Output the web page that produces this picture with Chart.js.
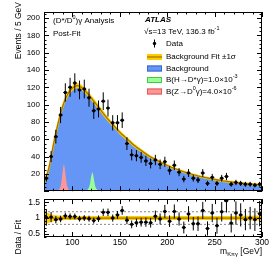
<!DOCTYPE html>
<html>
<head>
<meta charset="utf-8">
<script src="https://cdn.jsdelivr.net/npm/chart.js@4.4.0/dist/chart.umd.min.js"></script>
<style>
body { margin: 0; background: #fff; }
#wrap { position: relative; width: 277px; height: 266px; }
canvas { position: absolute; left: 0; }
#main { top: 0; }
#ratio { top: 190px; }
</style>
</head>
<body>
<div id="wrap">
<canvas id="main" width="277" height="200"></canvas>
<canvas id="ratio" width="277" height="76"></canvas>
</div>
<script>
// bins of 5 GeV
const binCenters = [72.5,77.5,82.5,87.5,92.5,97.5,102.5,107.5,112.5,117.5,122.5,127.5,132.5,137.5,142.5,147.5,152.5,157.5,162.5,167.5,172.5,177.5,182.5,187.5,192.5,197.5,202.5,207.5,212.5,217.5,222.5,227.5,232.5,237.5,242.5,247.5,252.5,257.5,262.5,267.5,272.5,277.5,282.5,287.5,292.5,297.5];
const dataEvents = [15,40,63,88,114,120,125,117,118,108,93,95,104,96,79,79,82,55,42,41,39,35,32,36,31,34,24,30,22,14,21,15,13,21,9,16,9,15,17,8,10,9,8,8,7,8];
const ratioValues = [1.02,1.03,0.95,0.97,1.07,1.05,1.05,0.98,1.0,0.98,0.92,0.98,1.18,1.18,1.0,1.1,1.24,0.93,0.8,0.85,0.87,0.87,0.85,1.06,0.97,1.21,0.9,1.21,0.97,0.7,1.13,0.82,0.82,1.24,0.67,1.16,0.76,1.2,1.55,0.84,1.16,1.1,0.95,1.0,0.95,1.14];

// background fit curve
const fitMass = [70,75,80,85,90,95,100,105,110,115,120,125,130,135,140,145,150,155,160,165,170,175,180,185,190,195,200,205,210,215,220,225,230,235,240,245,250,255,260,265,270,275,280,285,290,295,300];
const fitValues = [9,26,54,79,99,112,119,122,119.5,114,107.5,100.5,93.5,86.5,80,74,68,63,58,53,49,45,41.2,38,35,32.2,29.7,27.4,25.3,23.3,21.5,19.9,18.4,17,15.8,14.7,13.6,12.7,11.8,11,10.3,9.7,9.1,8.6,8.1,7.7,7.3];
const fitErr = [3,5,6,5,4,3.5,3,3,3,3,3,3,2.8,2.7,2.6,2.5,2.4,2.3,2.2,2.1,2,1.9,1.8,1.8,1.7,1.6,1.6,1.5,1.5,1.5,1.5,1.5,1.5,1.5,1.5,1.5,1.5,1.5,1.5,1.5,1.5,1.5,1.5,1.5,1.5,1.5,1.5];
const ratioBand = [0.22,0.15,0.1,0.08,0.07,0.065,0.065,0.065,0.065,0.065,0.065,0.065,0.065,0.065,0.065,0.065,0.065,0.065,0.065,0.065,0.065,0.065,0.065,0.065,0.065,0.065,0.065,0.065,0.065,0.065,0.065,0.065,0.065,0.065,0.065,0.065,0.065,0.065,0.065,0.065,0.065,0.07,0.07,0.075,0.075,0.08,0.08];

// signal shapes
const zMass = [83,85,86.5,88,89,90,91,92,93,94,95.5,97,99];
const zSignal = [0,1,3,8,16,25,31,25,16,8,3,1,0];
const hMass = [113,115,116.5,118,119,120,121,122,123,124,125.5,127,129];
const hSignal = [0,0.8,2.5,6,11.5,18,22,18,11.5,6,2.5,0.8,0];

const xTicks = [100,150,200,250,300];
const mainYTicks = [20,40,60,80,100,120,140,160,180,200];
const ratioYTicks = [0.5,1,1.5];
const refLines = [0.8,1.2];

const FAM = '"Liberation Sans", Arial, Helvetica, sans-serif';
const BLUE = 'rgb(102,150,245)';
const YELLOW = 'rgb(255,204,0)';
const FITLINE = 'rgb(160,115,0)';
const GREEN = 'rgb(150,255,150)';
const PINK = 'rgb(255,150,150)';
const TXT = 8;

Chart.defaults.font.family = FAM;
Chart.defaults.color = '#000';

function pts(xs, ys) {
    return xs.map((x, i) => ({ x: x, y: ys[i] }));
}

function richText(ctx, x, y, parts, size, align) {
    let w = 0;
    parts.forEach(p => {
        ctx.font = (p[1] ? size * 0.68 : size) + 'px ' + FAM;
        w += ctx.measureText(p[0]).width;
    });
    let cx = align === 'right' ? x - w : x;
    ctx.textAlign = 'left';
    ctx.textBaseline = 'middle';
    parts.forEach(p => {
        ctx.font = (p[1] ? size * 0.68 : size) + 'px ' + FAM;
        let dy = 0;
        if (p[1] === 'sup') dy = -size * 0.38;
        if (p[1] === 'sub') dy = size * 0.3;
        ctx.fillText(p[0], cx, y + dy);
        cx += ctx.measureText(p[0]).width;
    });
}

function frameTicks(xMaj, xMin, yMaj, yMin, lenMaj, lenMin) {
    return {
        id: 'frameTicks',
        afterDraw(chart) {
            const ctx = chart.ctx;
            const a = chart.chartArea;
            const x = chart.scales.x;
            const y = chart.scales.y;
            ctx.save();
            ctx.strokeStyle = '#000';
            ctx.lineWidth = 1;
            ctx.beginPath();
            for (let k = Math.ceil(x.min / xMin - 1e-9); k * xMin <= x.max + 1e-9; k++) {
                const v = k * xMin;
                const major = Math.abs(v / xMaj - Math.round(v / xMaj)) < 1e-6;
                const len = major ? lenMaj : lenMin;
                const px = Math.round(x.getPixelForValue(v)) + 0.5;
                ctx.moveTo(px, a.bottom); ctx.lineTo(px, a.bottom - len);
                ctx.moveTo(px, a.top); ctx.lineTo(px, a.top + len);
            }
            for (let k = Math.ceil(y.min / yMin - 1e-9); k * yMin <= y.max + 1e-9; k++) {
                const v = k * yMin;
                const major = Math.abs(v / yMaj - Math.round(v / yMaj)) < 1e-6;
                const len = major ? lenMaj : lenMin;
                const py = Math.round(y.getPixelForValue(v)) + 0.5;
                ctx.moveTo(a.left, py); ctx.lineTo(a.left + len, py);
                ctx.moveTo(a.right, py); ctx.lineTo(a.right - len, py);
            }
            ctx.stroke();
            ctx.strokeRect(Math.round(a.left) + 0.5, Math.round(a.top) + 0.5,
                Math.round(a.right - a.left) - 1, Math.round(a.bottom - a.top) - 1);
            ctx.restore();
        }
    };
}

function errorBars(xs, vals, errs) {
    return {
        id: 'errorBars',
        afterDatasetsDraw(chart) {
            const ctx = chart.ctx;
            const a = chart.chartArea;
            const x = chart.scales.x;
            const y = chart.scales.y;
            ctx.save();
            ctx.beginPath();
            ctx.rect(a.left, a.top, a.right - a.left, a.bottom - a.top);
            ctx.clip();
            ctx.strokeStyle = '#000';
            ctx.lineWidth = 1;
            ctx.beginPath();
            vals.forEach((v, i) => {
                const px = x.getPixelForValue(xs[i]);
                const py = y.getPixelForValue(v);
                ctx.moveTo(px, y.getPixelForValue(v - errs[i]));
                ctx.lineTo(px, y.getPixelForValue(v + errs[i]));
                ctx.moveTo(px - 2, py);
                ctx.lineTo(px + 2, py);
            });
            ctx.stroke();
            ctx.restore();
        }
    };
}

const mainTexts = {
    id: 'mainTexts',
    afterDraw(chart) {
        const ctx = chart.ctx;
        const S = TXT;
        ctx.save();
        ctx.fillStyle = '#000';
        // y title
        ctx.save();
        ctx.translate(19, 2);
        ctx.rotate(-Math.PI / 2);
        ctx.font = '8.5px ' + FAM;
        ctx.textAlign = 'right';
        ctx.textBaseline = 'middle';
        ctx.fillText('Events / 5 GeV', 0, 0);
        ctx.restore();

        richText(ctx, 53, 21, [['(D*/D'], ['0', 'sup'], [')γ Analysis']], S);
        richText(ctx, 53, 33.5, [['Post-Fit']], S);

        ctx.font = 'italic bold ' + S + 'px ' + FAM;
        ctx.textAlign = 'left';
        ctx.textBaseline = 'middle';
        ctx.fillText('ATLAS', 145, 20);
        richText(ctx, 144, 31.5, [['√s=13 TeV, 136.3 fb'], ['-1', 'sup']], S);

        // legend
        const bx = 147, bw = 15, tx = 166;
        ctx.strokeStyle = '#000';
        ctx.lineWidth = 1;
        ctx.beginPath();
        ctx.moveTo(154.5, 39.5); ctx.lineTo(154.5, 47.5);
        ctx.stroke();
        ctx.beginPath();
        ctx.arc(154.5, 43.5, 1.7, 0, Math.PI * 2);
        ctx.fill();
        richText(ctx, tx, 43.5, [['Data']], S);

        ctx.fillStyle = YELLOW;
        ctx.fillRect(bx, 54, bw, 6);
        ctx.strokeStyle = FITLINE;
        ctx.lineWidth = 1.2;
        ctx.beginPath(); ctx.moveTo(bx, 57); ctx.lineTo(bx + bw, 57); ctx.stroke();
        ctx.fillStyle = '#000';
        richText(ctx, tx, 57, [['Background Fit ±1σ']], S);

        const boxes = [
            [BLUE, 'rgb(60,100,220)', 65.5, [['Background']]],
            [GREEN, 'rgb(70,200,70)', 77, [['B(H→D*γ)=1.0×10'], ['-3', 'sup']]],
            [PINK, 'rgb(225,90,90)', 88.5, [['B(Z→D'], ['0', 'sup'], ['γ)=4.0×10'], ['-6', 'sup']]]
        ];
        boxes.forEach(b => {
            ctx.fillStyle = b[0];
            ctx.fillRect(bx, b[2], bw, 6);
            ctx.strokeStyle = b[1];
            ctx.lineWidth = 1;
            ctx.strokeRect(bx + 0.5, b[2] + 0.5, bw - 1, 5);
            ctx.fillStyle = '#000';
            richText(ctx, tx, b[2] + 3, b[3], S);
        });
        ctx.restore();
    }
};

const ratioTexts = {
    id: 'ratioTexts',
    afterDraw(chart) {
        const ctx = chart.ctx;
        ctx.save();
        ctx.fillStyle = '#000';
        ctx.save();
        ctx.translate(19, 30);
        ctx.rotate(-Math.PI / 2);
        ctx.font = '8.5px ' + FAM;
        ctx.textAlign = 'right';
        ctx.textBaseline = 'middle';
        ctx.fillText('Data / Fit', 0, 0);
        ctx.restore();
        richText(ctx, 262, 61.5, [['m'], ['Kπγ', 'sub'], [' [GeV]']], 8.5, 'right');
        ctx.restore();
    }
};

const noLegend = { legend: { display: false }, tooltip: { enabled: false } };

new Chart(document.getElementById('main'), {
    type: 'line',
    data: {
        datasets: [
            { label: 'Data', type: 'scatter', data: pts(binCenters, dataEvents), pointRadius: 1.7,
              pointBackgroundColor: '#000', pointBorderWidth: 0, order: 0 },
            { label: 'Z', data: pts(zMass, zSignal), fill: 'origin', backgroundColor: PINK,
              borderWidth: 0, pointRadius: 0, cubicInterpolationMode: 'monotone', order: 1 },
            { label: 'H', data: pts(hMass, hSignal), fill: 'origin', backgroundColor: GREEN,
              borderWidth: 0, pointRadius: 0, cubicInterpolationMode: 'monotone', order: 1 },
            { label: 'Fit', data: pts(fitMass, fitValues), fill: false, borderColor: FITLINE,
              borderWidth: 1.2, pointRadius: 0, cubicInterpolationMode: 'monotone', order: 2 },
            { label: 'Fit up', data: pts(fitMass, fitValues.map((v, i) => v + fitErr[i])), fill: '+1',
              backgroundColor: YELLOW, borderWidth: 0, pointRadius: 0, cubicInterpolationMode: 'monotone', order: 3 },
            { label: 'Fit down', data: pts(fitMass, fitValues.map((v, i) => v - fitErr[i])), fill: false,
              borderWidth: 0, pointRadius: 0, cubicInterpolationMode: 'monotone', order: 3 },
            { label: 'Background', data: pts(fitMass, fitValues), fill: 'origin', backgroundColor: BLUE,
              borderWidth: 0, pointRadius: 0, cubicInterpolationMode: 'monotone', order: 4 }
        ]
    },
    options: {
        responsive: false,
        animation: false,
        devicePixelRatio: 1,
        layout: { padding: { left: 0, right: 15, top: 12, bottom: 1 } },
        plugins: noLegend,
        scales: {
            x: { type: 'linear', min: 70, max: 300, display: false },
            y: {
                min: 0, max: 207,
                afterFit: s => { s.width = 44; },
                afterBuildTicks: s => { s.ticks = mainYTicks.map(v => ({ value: v })); },
                grid: { display: false, drawTicks: false },
                border: { display: false },
                ticks: { padding: 4, font: { size: 8 }, callback: v => String(v) }
            }
        }
    },
    plugins: [errorBars(binCenters, dataEvents, dataEvents.map(v => Math.sqrt(v))),
              frameTicks(50, 10, 20, 5, 5, 2.5), mainTexts]
});

new Chart(document.getElementById('ratio'), {
    type: 'line',
    data: {
        datasets: [
            { label: 'Data', type: 'scatter', data: pts(binCenters, ratioValues), pointRadius: 1.7,
              pointBackgroundColor: '#000', pointBorderWidth: 0, order: 0 },
            { label: 'One', data: pts([70, 300], [1, 1]), fill: false, borderColor: FITLINE,
              borderWidth: 1.2, pointRadius: 0, order: 1 },
            { label: 'Band up', data: pts(fitMass, ratioBand.map(b => 1 + b)), fill: '+1',
              backgroundColor: YELLOW, borderWidth: 0, pointRadius: 0, cubicInterpolationMode: 'monotone', order: 2 },
            { label: 'Band down', data: pts(fitMass, ratioBand.map(b => 1 - b)), fill: false,
              borderWidth: 0, pointRadius: 0, cubicInterpolationMode: 'monotone', order: 2 },
            { label: 'Ref hi', data: pts([70, 300], [refLines[1], refLines[1]]), fill: false,
              borderColor: '#888', borderWidth: 1, borderDash: [2, 2], pointRadius: 0, order: 3 },
            { label: 'Ref lo', data: pts([70, 300], [refLines[0], refLines[0]]), fill: false,
              borderColor: '#888', borderWidth: 1, borderDash: [2, 2], pointRadius: 0, order: 3 }
        ]
    },
    options: {
        responsive: false,
        animation: false,
        devicePixelRatio: 1,
        layout: { padding: { left: 0, right: 15, top: 9, bottom: 0 } },
        plugins: noLegend,
        scales: {
            x: {
                type: 'linear', min: 70, max: 300,
                afterFit: s => { s.height = 29; },
                afterBuildTicks: s => { s.ticks = xTicks.map(v => ({ value: v })); },
                grid: { display: false, drawTicks: false },
                border: { display: false },
                ticks: { padding: 1, maxRotation: 0, font: { size: 8.5 }, callback: v => String(v) }
            },
            y: {
                min: 0.4, max: 1.6,
                afterFit: s => { s.width = 44; },
                afterBuildTicks: s => { s.ticks = ratioYTicks.map(v => ({ value: v })); },
                grid: { display: false, drawTicks: false },
                border: { display: false },
                ticks: { padding: 4, font: { size: 8.5 }, callback: v => String(v) }
            }
        }
    },
    plugins: [errorBars(binCenters, ratioValues, ratioValues.map((r, i) => r / Math.sqrt(dataEvents[i]))),
              frameTicks(50, 10, 0.5, 0.1, 5, 2.5), ratioTexts]
});
</script>
</body>
</html>
